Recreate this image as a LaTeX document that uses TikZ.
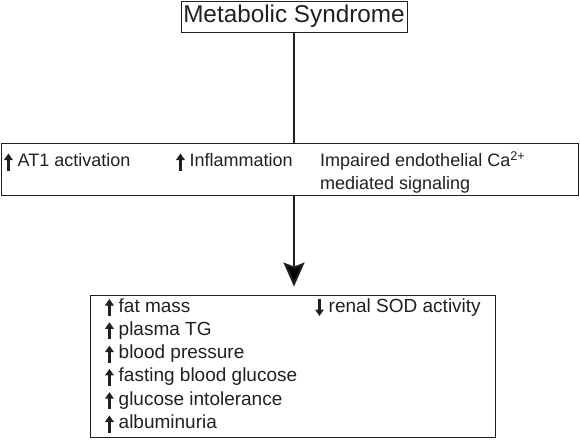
\documentclass[tikz,border=0pt]{standalone}
\usepackage{fontspec}
\setmainfont{Liberation Sans}
\usepackage{xcolor}
\usetikzlibrary{arrows.meta}
\definecolor{ink}{HTML}{231F20}
% small bold up / down arrows used in the lists
\newcommand{\uparr}{\tikz[baseline=0pt]{\draw[ink, line width=2.6pt, -{Triangle[length=6.5pt,width=8.5pt]}] (0,-4pt) -- (0,13pt);}}
\newcommand{\downarr}{\tikz[baseline=0pt]{\draw[ink, line width=2.6pt, -{Triangle[length=6.5pt,width=8.5pt]}] (0,13pt) -- (0,-4pt);}}

\begin{document}
\begin{tikzpicture}[x=1pt, y=1pt,
        box/.style={draw=ink, line width=0.9pt, inner sep=0pt},
        txt/.style={font=\fontsize{18}{23}\selectfont, text=ink,
                    anchor=base west, inner sep=0pt},
        item/.style={font=\fontsize{19}{23}\selectfont, text=ink,
                     anchor=base west, inner sep=0pt},
        link/.style={draw=ink, line width=2pt}
    ]
    \useasboundingbox (0,0) rectangle (580,-439);

    % Boxes
    \node[box, minimum width=226pt, minimum height=31pt,
          font=\fontsize{24.3}{29}\selectfont, text=ink] (syndrome) at (294,-16.5) {Metabolic Syndrome};
    \node[box, minimum width=577pt, minimum height=52pt] (factors) at (289.5,-169) {};
    \node[box, minimum width=405pt, minimum height=142pt] (outcomes) at (292.5,-366) {};

    % ---- Middle row ----
    \node[txt] (at1) at (4,-166.5) {\uparr\hspace{5pt}AT1 activation};
    \node[txt] (inflam) at (176,-166.5) {\uparr\hspace{5pt}Inflammation};
    % (base of a two-line node sits on its last line)
    \node[txt, align=left] (calcium) at (320,-189.5) {Impaired endothelial Ca\textsuperscript{2+}\\mediated signaling};

    % ---- Outcomes ----
    \node[item] (fat) at (105,-312) {\uparr\hspace{5pt}fat mass};
    \node[item] (tg) at (105,-335.3) {\uparr\hspace{5pt}plasma TG};
    \node[item] (bp) at (105,-358.6) {\uparr\hspace{5pt}blood pressure};
    \node[item] (fbg) at (105,-381.9) {\uparr\hspace{5pt}fasting blood glucose};
    \node[item] (gi) at (105,-405.2) {\uparr\hspace{5pt}glucose intolerance};
    \node[item] (alb) at (105,-428.5) {\uparr\hspace{5pt}albuminuria};
    \node[item] (sod) at (315,-312) {\downarr\hspace{5pt}renal SOD activity};

    % Connectors
    \draw[link] (syndrome.south) -- (syndrome.south |- factors.north);
    \draw[link, -{Stealth[length=24pt,width=21pt,inset=4pt]}, shorten >=8pt]
        (syndrome.south |- factors.south) -- (syndrome.south |- outcomes.north);
\end{tikzpicture}
\end{document}
